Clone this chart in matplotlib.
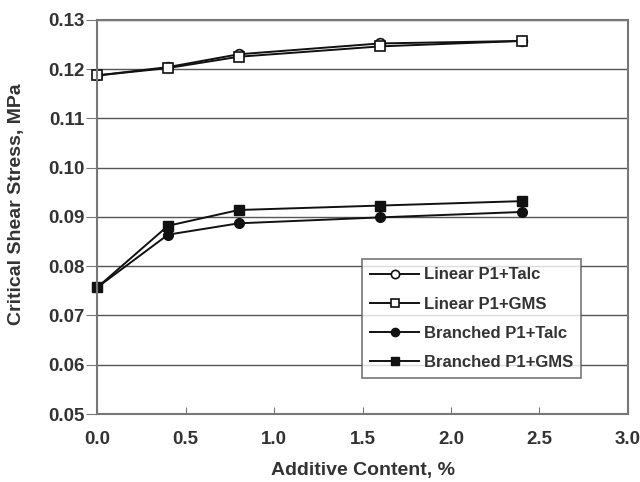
import matplotlib
matplotlib.use("Agg")
import matplotlib.pyplot as plt

plt.rcParams['font.family'] = ['Liberation Sans', 'DejaVu Sans']
plt.rcParams['font.weight'] = 'bold'
plt.rcParams['axes.labelweight'] = 'bold'

# Data
additive = [0.0, 0.4, 0.8, 1.6, 2.4]
linear_talc = [0.1187, 0.1204, 0.1230, 0.1252, 0.1257]
linear_gms = [0.1187, 0.1202, 0.1225, 0.1246, 0.1257]
branched_talc = [0.0757, 0.0864, 0.0887, 0.0899, 0.0910]
branched_gms = [0.0757, 0.0882, 0.0914, 0.0923, 0.0932]

xticks = [0.0, 0.5, 1.0, 1.5, 2.0, 2.5, 3.0]
yticks = [0.05, 0.06, 0.07, 0.08, 0.09, 0.10, 0.11, 0.12, 0.13]

txt = '#333333'

fig = plt.figure(figsize=(6.4, 4.82), dpi=100)
ax = fig.add_axes([0.152, 0.141, 0.829, 0.818])

ax.plot(additive, linear_talc, color='#111111', lw=1.4, marker='o', ms=7,
        mfc='white', mec='#111111', mew=1.2, label='Linear P1+Talc', clip_on=False)
ax.plot(additive, linear_gms, color='#111111', lw=1.4, marker='s', ms=7,
        mfc='white', mec='#111111', mew=1.2, label='Linear P1+GMS', clip_on=False)
ax.plot(additive, branched_talc, color='#111111', lw=1.4, marker='o', ms=7,
        mfc='#111111', mec='#111111', label='Branched P1+Talc', clip_on=False)
ax.plot(additive, branched_gms, color='#111111', lw=1.4, marker='s', ms=7,
        mfc='#111111', mec='#111111', label='Branched P1+GMS', clip_on=False)

ax.set_xlim(0, 3.0)
ax.set_ylim(0.05, 0.13)
ax.set_xticks(xticks)
ax.set_yticks(yticks)
ax.set_xticklabels([f'{t:.1f}' for t in xticks])
ax.set_yticklabels([f'{t:.2f}' for t in yticks])
ax.tick_params(axis='x', direction='in', length=5, color='#777777',
               labelsize=13.5, labelcolor=txt, pad=12)
ax.tick_params(axis='y', direction='out', length=8, color='#777777',
               labelsize=13.5, labelcolor=txt, pad=1)
ax.grid(axis='y', color='#555555', lw=1.0)
ax.set_axisbelow(True)
for s in ax.spines.values():
    s.set_color('#777777')
    s.set_linewidth(1.5)

ax.set_xlabel('Additive Content, %', fontsize=14, color=txt, labelpad=10)
ax.set_ylabel('Critical Shear Stress, MPa', fontsize=14, color=txt)
ax.yaxis.set_label_coords(-0.136, 0.533)

leg = ax.legend(loc='upper left', bbox_to_anchor=(0.499, 0.393), fontsize=12,
                frameon=True, fancybox=False, edgecolor='#555555',
                borderpad=0.5, labelspacing=0.85, handlelength=2.9,
                handletextpad=0.3, borderaxespad=0, markerscale=0.85)
leg.get_frame().set_linewidth(1.2)
for t in leg.get_texts():
    t.set_color(txt)

fig.savefig('out.png', dpi=100, facecolor='white')
